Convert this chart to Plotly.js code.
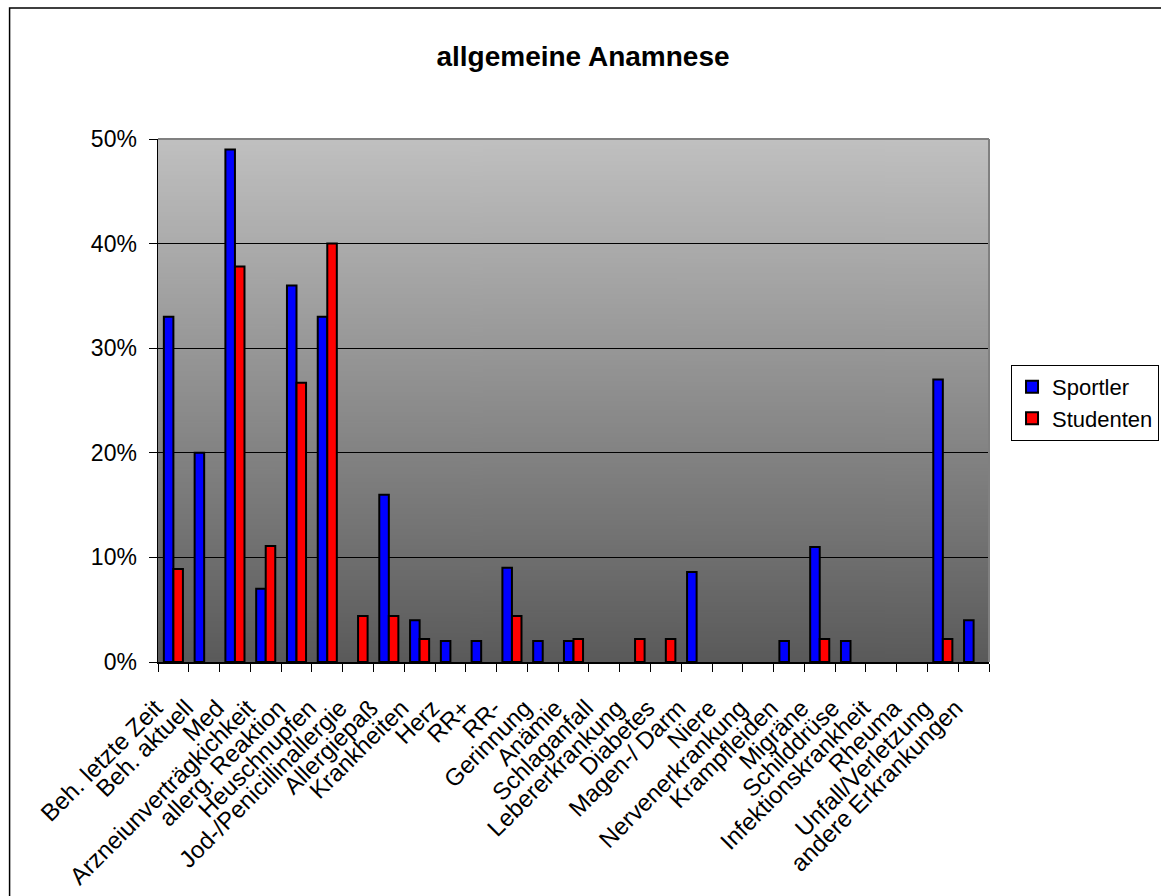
<!DOCTYPE html>
<html>
<head>
<meta charset="utf-8">
<script src="https://cdn.plot.ly/plotly-3.0.1.min.js"></script>
<style>
  html, body { margin: 0; padding: 0; background: #ffffff; }
  #chart { width: 1161px; height: 896px; }
</style>
</head>
<body>
<div id="chart"></div>
<script>
const categories = [
  "Beh. letzte Zeit", "Beh. aktuell", "Med", "Arzneiunverträgkichkeit",
  "allerg. Reaktion", "Heuschnupfen", "Jod-/Penicillinallergie", "Allergiepaß",
  "Krankheiten", "Herz", "RR+", "RR-", "Gerinnung", "Anämie", "Schlaganfall",
  "Lebererkrankung", "Diabetes", "Magen-/ Darm", "Niere", "Nervenerkrankung",
  "Krampfleiden", "Migräne", "Schilddrüse", "Infektionskrankheit", "Rheuma",
  "Unfall/Verletzung", "andere Erkrankungen"
];
const sportler = [
  0.33, 0.20, 0.49, 0.07, 0.36, 0.33, 0, 0.16, 0.04, 0.02, 0.02, 0.09, 0.02,
  0.02, 0, 0, 0, 0.086, 0, 0, 0.02, 0.11, 0.02, 0, 0, 0.27, 0.04
];
const studenten = [
  0.089, 0, 0.378, 0.111, 0.267, 0.40, 0.044, 0.044, 0.022, 0, 0, 0.044, 0,
  0.022, 0, 0.022, 0.022, 0, 0, 0, 0, 0.022, 0, 0, 0, 0.022, 0
];
const seriesNames = ["Sportler", "Studenten"];
const yTickVals = [0, 0.1, 0.2, 0.3, 0.4, 0.5];

// zero values are drawn as no bar at all (as in the original chart)
const hideZero = arr => arr.map(v => (v === 0 ? null : v));

// vertical gray gradient used as plot-area background
function gradientURL() {
  const c = document.createElement("canvas");
  c.width = 4; c.height = 512;
  const g = c.getContext("2d");
  const lg = g.createLinearGradient(0, 0, 0, 512);
  lg.addColorStop(0, "#c0c0c0");
  lg.addColorStop(1, "#5a5a5a");
  g.fillStyle = lg;
  g.fillRect(0, 0, 4, 512);
  return c.toDataURL("image/png");
}

const FONT = "Liberation Sans, Arial, sans-serif";

const traces = [
  {
    type: "bar", name: seriesNames[0], x: categories, y: hideZero(sportler),
    marker: { color: "#0000ff", line: { color: "#000000", width: 2 } }
  },
  {
    type: "bar", name: seriesNames[1], x: categories, y: hideZero(studenten),
    marker: { color: "#ff0000", line: { color: "#000000", width: 2 } }
  }
];

const layout = {
  width: 1161, height: 896,
  margin: { l: 158, r: 172, t: 139, b: 234, pad: 0, autoexpand: false },
  paper_bgcolor: "#ffffff",
  plot_bgcolor: "rgba(0,0,0,0)",
  font: { family: FONT, size: 22, color: "#000000" },
  title: {
    text: "<b>allgemeine Anamnese</b>",
    font: { family: FONT, size: 28, color: "#000000" },
    x: 583 / 1161, xref: "container", xanchor: "center",
    y: 1 - 56 / 896, yref: "container", yanchor: "middle"
  },
  barmode: "group",
  bargap: 0.38,
  bargroupgap: 0,
  showlegend: true,
  legend: {
    x: 1.0265, xanchor: "left", y: 0.568, yanchor: "top",
    bgcolor: "#ffffff", bordercolor: "#000000", borderwidth: 1,
    font: { family: FONT, size: 22, color: "#000000" },
    traceorder: "normal"
  },
  xaxis: {
    type: "category",
    tickangle: -45,
    tickson: "boundaries",
    ticks: "outside", ticklen: 8, tickcolor: "#000000", tickwidth: 1,
    ticklabelstandoff: 21,
    ticklabelshift: -18,
    showline: true, linecolor: "#000000", linewidth: 1.5,
    showgrid: false,
    tickfont: { family: FONT, size: 24, color: "#000000" },
    automargin: false
  },
  yaxis: {
    range: [0, 0.5],
    tickvals: yTickVals,
    tickformat: ".0%",
    ticks: "outside", ticklen: 8, tickcolor: "#000000", tickwidth: 1,
    ticklabelstandoff: 7,
    showline: true, linecolor: "#000000", linewidth: 1.5,
    showgrid: true, gridcolor: "#000000", gridwidth: 1,
    zeroline: false,
    tickfont: { family: FONT, size: 23, color: "#000000" },
    automargin: false
  },
  images: [{
    source: gradientURL(),
    xref: "x domain", yref: "y domain",
    x: 0, y: 1, sizex: 1, sizey: 1,
    xanchor: "left", yanchor: "top",
    sizing: "stretch", layer: "below"
  }],
  shapes: [
    { type: "line", xref: "paper", yref: "paper", x0: 0, x1: 1, y0: 1, y1: 1,
      line: { color: "#808080", width: 2 } },
    { type: "line", xref: "paper", yref: "paper", x0: 1, x1: 1, y0: 0, y1: 1,
      line: { color: "#808080", width: 2 } },
    { type: "rect", xref: "paper", yref: "paper",
      x0: -0.1786, x1: 1.4, y0: 1.2503, y1: -0.6,
      line: { color: "#000000", width: 1.5 }, fillcolor: "rgba(0,0,0,0)" }
  ]
};

Plotly.newPlot("chart", traces, layout, { displayModeBar: false, staticPlot: true });
</script>
</body>
</html>
